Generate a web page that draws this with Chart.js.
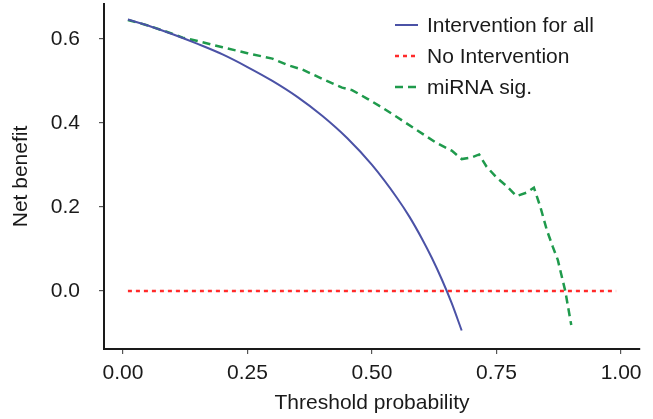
<!DOCTYPE html>
<html>
<head>
<meta charset="utf-8">
<script src="https://cdn.jsdelivr.net/npm/chart.js@4.4.1/dist/chart.umd.min.js"></script>
<style>
  html, body { margin: 0; padding: 0; background: #fff; }
  #wrap { width: 653px; height: 419px; position: relative; }
</style>
</head>
<body>
<div id="wrap"><canvas id="dca"></canvas></div>
<script>
// --- datos ---
const umbralTodos = [0.01, 0.05, 0.10, 0.15, 0.20, 0.25, 0.30, 0.35, 0.40, 0.45, 0.50, 0.55, 0.575, 0.60, 0.62, 0.64, 0.66, 0.68];
const beneficioTodos = [0.646, 0.632, 0.611, 0.588, 0.563, 0.533, 0.500, 0.462, 0.417, 0.364, 0.300, 0.222, 0.177, 0.125, 0.079, 0.028, -0.029, -0.094];

const umbralNinguno = [0.01, 0.99];
const beneficioNinguno = [0, 0];

const umbralMirna = [0.01, 0.05, 0.10, 0.12, 0.15, 0.20, 0.25, 0.30, 0.33, 0.36, 0.40, 0.44, 0.46, 0.49, 0.52, 0.55, 0.59, 0.63, 0.66, 0.68, 0.70, 0.715, 0.73, 0.75, 0.77, 0.79, 0.81, 0.825, 0.838, 0.851, 0.863, 0.873, 0.888, 0.90];
const beneficioMirna = [0.645, 0.632, 0.612, 0.603, 0.595, 0.580, 0.566, 0.553, 0.538, 0.527, 0.505, 0.484, 0.478, 0.458, 0.437, 0.414, 0.383, 0.352, 0.334, 0.314, 0.318, 0.325, 0.296, 0.270, 0.250, 0.226, 0.234, 0.246, 0.200, 0.145, 0.105, 0.074, 0.0, -0.081];

const ticksX = [0, 0.25, 0.50, 0.75, 1.00];
const ticksY = [0, 0.2, 0.4, 0.6];

const etiquetas = ['Intervention for all', 'No Intervention', 'miRNA sig.'];

const FUENTE = 'Liberation Sans, Arial, sans-serif';
const TINTA = '#1a1a1a';

function puntos(xs, ys) {
    return xs.map((x, i) => ({ x: x, y: ys[i] }));
}

// sin relleno extra por las etiquetas de los extremos
function sinRelleno(s) {
    s.paddingTop = 0;
    s.paddingBottom = 0;
    s.paddingLeft = 0;
    s.paddingRight = 0;
}

// leyenda dibujada dentro del área del gráfico
const leyendaInterna = {
    id: 'leyendaInterna',
    afterDraw(chart) {
        const ctx = chart.ctx;
        ctx.save();
        ctx.font = '21px ' + FUENTE;
        ctx.textBaseline = 'middle';
        ctx.fillStyle = TINTA;
        chart.data.datasets.forEach((ds, i) => {
            const y = 25 + i * 31;
            ctx.beginPath();
            ctx.strokeStyle = ds.borderColor;
            ctx.lineWidth = ds.borderWidth;
            ctx.setLineDash(ds.borderDash || []);
            ctx.moveTo(395, y);
            ctx.lineTo(418, y);
            ctx.stroke();
            ctx.setLineDash([]);
            ctx.fillText(ds.label, 427, y + 1);
        });
        ctx.restore();
    }
};

new Chart(document.getElementById('dca'), {
    type: 'line',
    data: {
        datasets: [
            {
                label: etiquetas[0],
                data: puntos(umbralTodos, beneficioTodos),
                borderColor: '#4b52a6',
                borderWidth: 2,
                cubicInterpolationMode: 'monotone',
                pointRadius: 0
            },
            {
                label: etiquetas[1],
                data: puntos(umbralNinguno, beneficioNinguno),
                borderColor: '#ff2a2a',
                borderWidth: 2.5,
                borderDash: [4, 4],
                pointRadius: 0
            },
            {
                label: etiquetas[2],
                data: puntos(umbralMirna, beneficioMirna),
                borderColor: '#1f9a4c',
                borderWidth: 2.5,
                borderDash: [8, 5],
                tension: 0,
                pointRadius: 0
            }
        ]
    },
    options: {
        responsive: true,
        maintainAspectRatio: false,
        animation: false,
        layout: { padding: { top: 4, right: 13, left: 0, bottom: 0 } },
        plugins: {
            legend: { display: false },
            tooltip: { enabled: false }
        },
        scales: {
            x: {
                type: 'linear',
                min: -0.038,
                max: 1.038,
                afterBuildTicks: (s) => { s.ticks = ticksX.map(v => ({ value: v })); },
                afterFit: (s) => { s.height = 70; sinRelleno(s); },
                border: { display: true, color: TINTA, width: 2 },
                grid: { drawOnChartArea: false, drawTicks: true, tickLength: 5, color: '#555', lineWidth: 1.2 },
                ticks: {
                    padding: 7,
                    color: TINTA,
                    font: { family: FUENTE, size: 21 },
                    maxRotation: 0,
                    callback: (v) => Number(v).toFixed(2)
                },
                title: {
                    display: true,
                    text: 'Threshold probability',
                    color: TINTA,
                    font: { family: FUENTE, size: 21 },
                    padding: 3
                }
            },
            y: {
                min: -0.138,
                max: 0.683,
                afterBuildTicks: (s) => { s.ticks = ticksY.map(v => ({ value: v })); },
                afterFit: (s) => { s.width = 104; sinRelleno(s); },
                border: { display: true, color: TINTA, width: 2 },
                grid: { drawOnChartArea: false, drawTicks: true, tickLength: 5, color: '#555', lineWidth: 1.2 },
                ticks: {
                    padding: 19,
                    color: TINTA,
                    font: { family: FUENTE, size: 21 },
                    callback: (v) => Number(v).toFixed(1)
                },
                title: {
                    display: true,
                    text: 'Net benefit',
                    color: TINTA,
                    font: { family: FUENTE, size: 21 },
                    padding: 9
                }
            }
        }
    },
    plugins: [leyendaInterna]
});
</script>
</body>
</html>
